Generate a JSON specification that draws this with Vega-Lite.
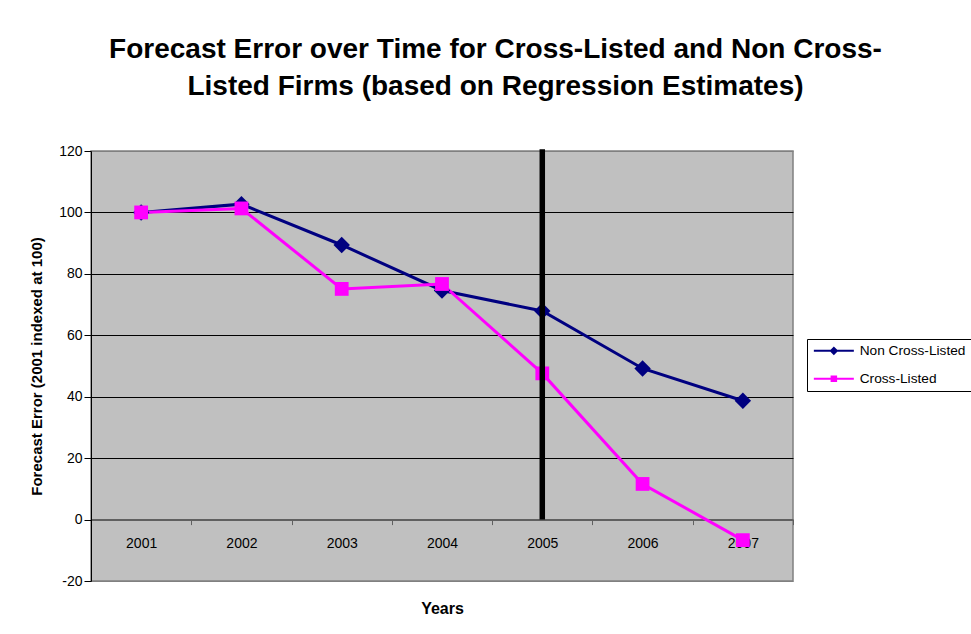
{
  "$schema": "https://vega.github.io/schema/vega-lite/v6.json",
  "width": 702,
  "height": 430,
  "autosize": "none",
  "padding": {"left": 91, "top": 151, "right": 178, "bottom": 53},
  "background": "white",
  "title": {
    "text": ["Forecast Error over Time for Cross-Listed and Non Cross-", "Listed Firms (based on Regression Estimates)"],
    "font": "Liberation Sans",
    "fontSize": 28,
    "fontWeight": "bold",
    "color": "black",
    "lineHeight": 37,
    "anchor": "middle",
    "frame": "group",
    "dx": 53.5,
    "offset": 43
  },
  "config": {
    "view": {"fill": "#C0C0C0", "stroke": "#808080", "strokeWidth": 1.5},
    "axis": {"labelFont": "Liberation Sans", "titleFont": "Liberation Sans", "labelColor": "black", "titleColor": "black"}
  },
  "datasets": {
    "series": [
      {"year": "2001", "series": "Non Cross-Listed", "value": 100},
      {"year": "2002", "series": "Non Cross-Listed", "value": 102.7},
      {"year": "2003", "series": "Non Cross-Listed", "value": 89.4},
      {"year": "2004", "series": "Non Cross-Listed", "value": 74.6},
      {"year": "2005", "series": "Non Cross-Listed", "value": 67.9},
      {"year": "2006", "series": "Non Cross-Listed", "value": 49.2},
      {"year": "2007", "series": "Non Cross-Listed", "value": 38.7},
      {"year": "2001", "series": "Cross-Listed", "value": 100},
      {"year": "2002", "series": "Cross-Listed", "value": 101.3},
      {"year": "2003", "series": "Cross-Listed", "value": 75.1},
      {"year": "2004", "series": "Cross-Listed", "value": 76.7},
      {"year": "2005", "series": "Cross-Listed", "value": 47.6},
      {"year": "2006", "series": "Cross-Listed", "value": 11.6},
      {"year": "2007", "series": "Cross-Listed", "value": -6.7}
    ],
    "marker": [{"year": "2005", "low": 0, "high": 120.6}]
  },
  "encoding": {
    "x": {
      "field": "year",
      "type": "ordinal",
      "scale": {"type": "band", "paddingInner": 0, "paddingOuter": 0, "domain": ["2001", "2002", "2003", "2004", "2005", "2006", "2007"]},
      "axis": {
        "title": "Years",
        "titleFontSize": 16,
        "titleFontWeight": "bold",
        "titlePadding": 50,
        "labelFontSize": 14,
        "labelAngle": 0,
        "labelPadding": 12,
        "tickBand": "extent",
        "tickSize": 5,
        "tickColor": "#606060",
        "domainColor": "#606060",
        "domainWidth": 2,
        "offset": -61.4,
        "grid": false
      }
    },
    "y": {
      "field": "value",
      "type": "quantitative",
      "scale": {"domain": [-20, 120], "nice": false, "zero": false},
      "axis": {
        "title": "Forecast Error (2001 indexed at 100)",
        "titleFontSize": 15,
        "titleFontWeight": "bold",
        "titlePadding": 14,
        "labelFontSize": 14,
        "labelPadding": 2,
        "labelExpr": "replace(datum.label, '\u2212', '-')",
        "values": [-20, 0, 20, 40, 60, 80, 100, 120],
        "tickSize": 7,
        "tickColor": "black",
        "domainColor": "black",
        "domainWidth": 1,
        "grid": true,
        "gridColor": {"condition": {"test": "datum.value === 120 || datum.value === -20", "value": "#808080"}, "value": "black"},
        "gridOpacity": 1,
        "gridWidth": 1
      }
    },
    "color": {
      "field": "series",
      "type": "nominal",
      "scale": {"domain": ["Non Cross-Listed", "Cross-Listed"], "range": ["#000080", "#FF00FF"]},
      "legend": {
        "title": null,
        "orient": "none",
        "legendX": 716,
        "legendY": 188,
        "labelFont": "Liberation Sans",
        "labelFontSize": 13.7,
        "labelColor": "black",
        "labelOffset": 34,
        "symbolSize": 100,
        "symbolType": "M-1,0H7M2.4,0L3,-0.6L3.6,0L3,0.6Z",
        "symbolStrokeWidth": 2,
        "rowPadding": 13,
        "padding": 5,
        "fillColor": "white",
        "strokeColor": "black",
        "encode": {
          "symbols": {
            "update": {
              "shape": {"signal": "datum.value === 'Non Cross-Listed' ? 'M-1,0H7M2.4,0L3,-0.6L3.6,0L3,0.6Z' : 'M-1,0H7M2.55,-0.45H3.45V0.45H2.55Z'"},
              "stroke": {"signal": "datum.value === 'Non Cross-Listed' ? '#000080' : '#FF00FF'"},
              "fill": {"signal": "datum.value === 'Non Cross-Listed' ? '#000080' : '#FF00FF'"},
              "strokeWidth": {"value": 2},
              "size": {"value": 100},
              "opacity": {"value": 1}
            }
          }
        }
      }
    }
  },
  "layer": [
    {
      "data": {"name": "series"},
      "mark": {"type": "line", "strokeWidth": 3},
      "encoding": {
        "order": {"field": "year"}
      }
    },
    {
      "data": {"name": "series"},
      "transform": [{"filter": "datum.series === 'Non Cross-Listed'"}],
      "mark": {"type": "point", "shape": "diamond", "filled": true, "opacity": 1, "strokeWidth": 0, "size": 270}
    },
    {
      "data": {"name": "series"},
      "transform": [{"filter": "datum.series === 'Cross-Listed'"}],
      "mark": {"type": "point", "shape": "square", "filled": true, "opacity": 1, "strokeWidth": 0, "size": 190}
    },
    {
      "data": {"name": "marker"},
      "mark": {"type": "rule", "strokeWidth": 5.5, "color": "black"},
      "encoding": {
        "y": {"field": "low", "type": "quantitative"},
        "y2": {"field": "high"},
        "color": {"value": "black"}
      }
    }
  ]
}
